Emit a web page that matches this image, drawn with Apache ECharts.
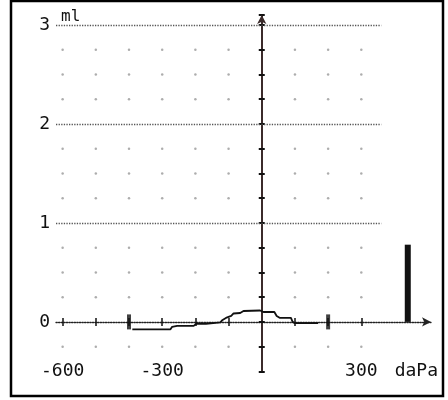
<!DOCTYPE html>
<html>
<head>
<meta charset="utf-8">
<script src="https://cdn.jsdelivr.net/npm/echarts@6/dist/echarts.min.js"></script>
<style>
  body { margin: 0; background: #fff; }
  #chart { width: 448px; height: 400px; }
</style>
</head>
<body>
<div id="chart"></div>
<script>
// 压力 (daPa) / 容积 (ml)
const curvePressure = [-390, -275, -270, -255, -205, -198, -168, -162, -125, -118, -108, -92, -85, -65, -55, -5, 5, 38, 45, 55, 88, 93, 100, 170]
const curveVolume = [-0.075, -0.075, -0.05, -0.04, -0.04, -0.02, -0.02, -0.005, -0.005, 0.02, 0.04, 0.06, 0.085, 0.09, 0.11, 0.115, 0.10, 0.10, 0.06, 0.04, 0.04, 0.0, -0.012, -0.012]

// 右侧柱子
const barPressure = [440]
const barVolume = [0.78]

// 范围标记
const markerPressure = [-400, 200]

// 刻度
const xLabelValues = [-600, -300, 300]
const xTickValues = [-600, -500, -400, -300, -200, -100, 100, 200, 300]
const yLabelValues = [0, 1, 2, 3]
const refLines = [1, 2, 3]

// 点阵
const dotX = [-600, -500, -400, -300, -200, -100, 100, 200, 300]
const dotY = [-0.25, 0.25, 0.5, 0.75, 1.25, 1.5, 1.75, 2.25, 2.5, 2.75]

const font = 'DejaVu Sans Mono'
const myChart = echarts.init(document.getElementById('chart'))

const curveData = curvePressure.map((p, i) => [p, curveVolume[i]])
const dots = []
dotX.forEach((x) => {
  dotY.forEach((y) => {
    dots.push([x, y])
  })
})

const xCommon = { type: 'value', min: -620, max: 510, splitLine: { show: false } }
const yCommon = { type: 'value', min: -0.5, max: 3.1, interval: 0.25, splitLine: { show: false } }

const options = {
  animation: false,
  grid: { left: 56, right: 17, top: 15, bottom: 28.6 },
  graphic: [{
    type: 'rect',
    shape: { x: 11, y: 1, width: 432, height: 395 },
    style: { fill: 'none', stroke: '#000', lineWidth: 2.5 }
  }],
  xAxis: [
    { // 底部标签
      ...xCommon,
      position: 'bottom',
      axisLine: { show: false, onZero: false },
      axisTick: { show: false },
      axisLabel: {
        customValues: xLabelValues,
        margin: 0,
        verticalAlign: 'middle',
        fontFamily: font,
        fontSize: 18,
        color: '#111'
      },
      name: 'daPa',
      nameLocation: 'end',
      nameGap: 7,
      nameTextStyle: { align: 'right', verticalAlign: 'middle', fontFamily: font, fontSize: 18, color: '#111' }
    },
    { // 零线
      ...xCommon,
      axisLine: {
        onZero: true,
        symbol: ['none', 'arrow'],
        symbolSize: [7, 9],
        lineStyle: { color: '#222', type: 'dotted', width: 1.3 }
      },
      axisTick: { customValues: xTickValues, length: 4, lineStyle: { color: '#111', width: 1.5 } },
      axisLabel: { show: false }
    },
    {
      ...xCommon,
      axisLine: { show: false, onZero: true },
      axisTick: { customValues: xTickValues, inside: true, length: 4, lineStyle: { color: '#111', width: 1.5 } },
      axisLabel: { show: false }
    }
  ],
  yAxis: [
    { // 左侧标签
      ...yCommon,
      position: 'left',
      axisLine: { show: false, onZero: false },
      axisTick: { show: false },
      axisLabel: {
        customValues: yLabelValues,
        margin: 6,
        fontFamily: font,
        fontSize: 18,
        color: '#111'
      },
      name: 'ml',
      nameLocation: 'end',
      nameGap: -2,
      nameTextStyle: { align: 'left', verticalAlign: 'middle', padding: [0, 0, 0, 5], fontFamily: font, fontSize: 16, color: '#111' }
    },
    { // 零点竖轴
      ...yCommon,
      position: 'left',
      axisLine: {
        onZero: true,
        symbol: ['none', 'arrow'],
        symbolSize: [7, 9],
        lineStyle: { color: '#3b2b2b', width: 2 }
      },
      axisTick: { length: 3, lineStyle: { color: '#111', width: 2 } },
      axisLabel: { show: false }
    },
    {
      ...yCommon,
      position: 'left',
      axisLine: { show: false, onZero: true },
      axisTick: { inside: true, length: 3, lineStyle: { color: '#111', width: 2 } },
      axisLabel: { show: false }
    }
  ],
  series: [
    { // 点阵
      type: 'scatter',
      data: dots,
      symbol: 'circle',
      symbolSize: 2.5,
      itemStyle: { color: '#999' },
      silent: true,
      markLine: {
        silent: true,
        symbol: 'none',
        label: { show: false },
        lineStyle: { color: '#555', type: 'dotted', width: 1.3 },
        data: refLines.map((v) => [{ coord: [-620, v] }, { coord: [360, v] }])
      }
    },
    { // 曲线
      type: 'line',
      data: curveData,
      showSymbol: false,
      lineStyle: { color: '#111', width: 1.8 }
    },
    { // 范围标记
      type: 'scatter',
      data: markerPressure.map((p) => [p, 0]),
      symbol: 'rect',
      symbolSize: [4, 15],
      itemStyle: { color: '#111' }
    },
    { // 柱子
      type: 'bar',
      data: barPressure.map((p, i) => [p, barVolume[i]]),
      barWidth: 6,
      itemStyle: { color: '#111' }
    }
  ]
}
myChart.setOption(options)
</script>
</body>
</html>
